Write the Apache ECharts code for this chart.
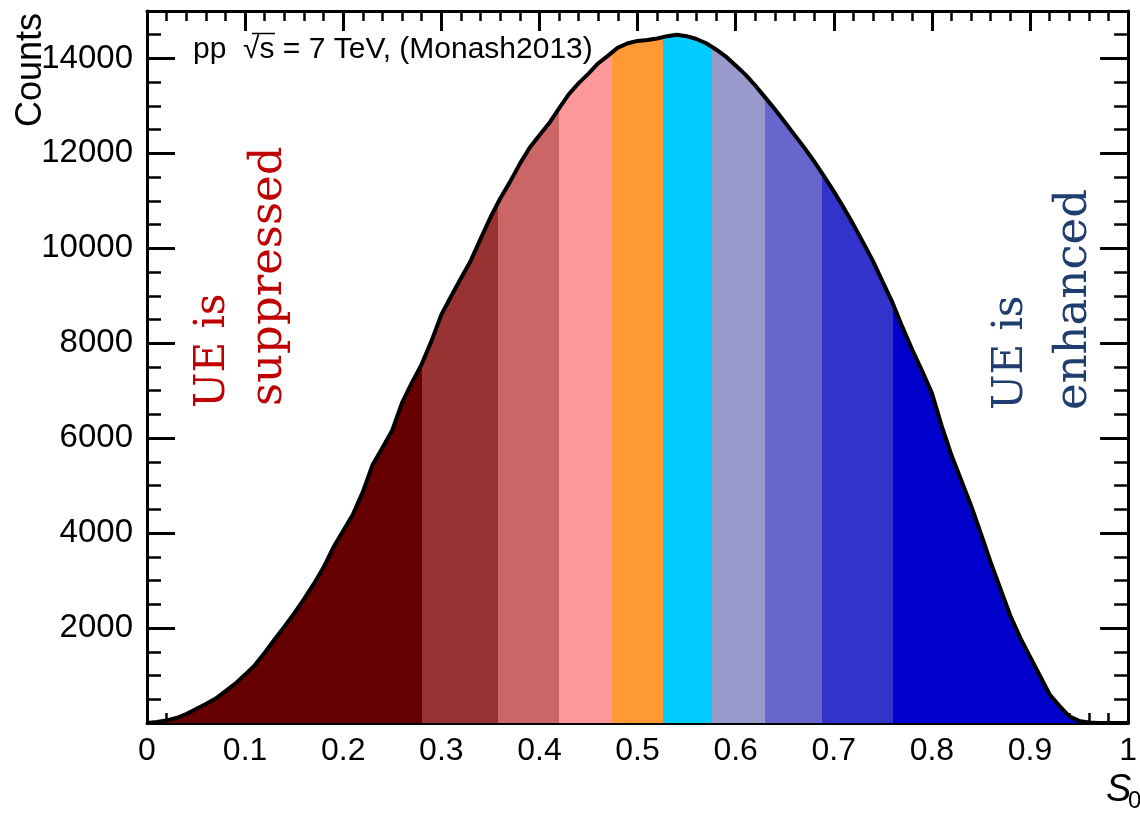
<!DOCTYPE html>
<html>
<head>
<meta charset="utf-8">
<script src="https://cdn.jsdelivr.net/npm/echarts@6/dist/echarts.min.js"></script>
<style>
  html, body { margin: 0; padding: 0; background: #fff; }
  #chart { width: 1140px; height: 815px; }
</style>
</head>
<body>
<div id="chart"></div>
<script>
// S0 distribution, bin step 0.01 from 0 to 1
const binStep = 0.01;
const counts = [
  0, 20, 55, 105, 190, 295, 400, 515, 670, 830,
  1020, 1220, 1480, 1760, 2030, 2310, 2610, 2930, 3280, 3700,
  4050, 4400, 4870, 5440, 5800, 6170, 6750, 7170, 7560, 8050,
  8600, 8990, 9370, 9740, 10200, 10650, 11050, 11400, 11780, 12120,
  12380, 12640, 12950, 13250, 13480, 13680, 13900, 14060, 14230, 14320,
  14370, 14390, 14420, 14470, 14500, 14470, 14410, 14320, 14190, 14040,
  13850, 13660, 13430, 13180, 12930, 12660, 12390, 12120, 11830, 11520,
  11200, 10860, 10500, 10120, 9730, 9290, 8850, 8340, 7860, 7420,
  6950, 6260, 5640, 5110, 4580, 3990, 3380, 2820, 2260, 1800,
  1400, 1000, 600, 360, 140, 45, 10, 0, 0, 0,
  0
];

// edges of the coloured S0 classes
const classEdges = [0.280, 0.358, 0.4195, 0.474, 0.5255, 0.576, 0.630, 0.6885, 0.760];
const classColors = ['#660000', '#993333', '#cc6666', '#ff9999', '#ff9933',
                     '#00ccff', '#9999cc', '#6666cc', '#3333cc', '#0000cc'];

const yTicks = [2000, 4000, 6000, 8000, 10000, 12000, 14000];

const histData = counts.map((c, i) => [+(i * binStep).toFixed(2), c]);

// visualMap pieces for the bands
const pieces = classColors.map((col, i) => {
  const p = { color: col };
  if (i > 0) p.gte = classEdges[i - 1];
  if (i < classEdges.length) p.lt = classEdges[i];
  return p;
});

const chart = echarts.init(document.getElementById('chart'));
const font = 'Liberation Sans, Arial, Helvetica, sans-serif';
const serif = 'DejaVu Serif, serif';

const xCommon = {
  type: 'value', min: 0, max: 1, interval: 0.1,
  axisLine: { show: true, onZero: false, lineStyle: { color: '#000', width: 3 } },
  axisTick: { show: true, inside: true, length: 20, lineStyle: { color: '#000', width: 3 } },
  minorTick: { show: true, splitNumber: 5, length: 10, lineStyle: { color: '#000', width: 2.5 } },
  splitLine: { show: false }
};
const yCommon = {
  type: 'value', min: 0, max: 15000, interval: 2000,
  axisLine: { show: true, onZero: false, lineStyle: { color: '#000', width: 3 } },
  axisTick: { show: true, inside: true, length: 28, lineStyle: { color: '#000', width: 3 } },
  minorTick: { show: true, splitNumber: 4, length: 14, lineStyle: { color: '#000', width: 2.5 } },
  splitLine: { show: false }
};

chart.setOption({
  animation: false,
  grid: { left: 147, right: 4, top: 11, bottom: 92 },
  xAxis: [
    Object.assign({}, xCommon, {
      position: 'bottom',
      axisLabel: { color: '#000', fontSize: 32, fontFamily: font, margin: 12 }
    }),
    Object.assign({}, xCommon, { position: 'top', axisLabel: { show: false } })
  ],
  yAxis: [
    Object.assign({}, yCommon, {
      position: 'left',
      axisLabel: {
        color: '#000', fontSize: 33, fontFamily: font, margin: 14,
        formatter: v => (yTicks.includes(v) ? String(v) : '')
      }
    }),
    Object.assign({}, yCommon, { position: 'right', axisLabel: { show: false } })
  ],
  visualMap: {
    type: 'piecewise', show: false, dimension: 0, seriesIndex: 0,
    pieces: pieces
  },
  series: [
    {
      type: 'line', data: histData, showSymbol: false, smooth: false,
      lineStyle: { width: 0 },
      areaStyle: { opacity: 1 },
      z: 3
    },
    {
      type: 'line', data: histData, showSymbol: false, smooth: false,
      lineStyle: { color: '#000', width: 4 },
      z: 4
    }
  ],
  graphic: [
    {
      type: 'text', x: 193, y: 50, z: 10,
      style: { text: 'pp  \u221as = 7 TeV, (Monash2013)', font: '30px ' + font,
               fill: '#000', verticalAlign: 'middle' }
    },
    {
      type: 'line', z: 10,
      shape: { x1: 252, y1: 33.5, x2: 275, y2: 33.5 },
      style: { stroke: '#000', lineWidth: 1.5 }
    },
    {
      type: 'text', x: 31, y: 13, rotation: Math.PI / 2, z: 10,
      style: { text: 'Counts', font: '36px ' + font, fill: '#000',
               align: 'right', verticalAlign: 'middle' }
    },
    {
      type: 'text', x: 1106, y: 790, z: 10,
      style: { text: 'S', font: 'italic 38px ' + font, fill: '#000', verticalAlign: 'middle' }
    },
    {
      type: 'text', x: 1128, y: 801, z: 10,
      style: { text: '0', font: '24px ' + font, fill: '#000', verticalAlign: 'middle' }
    },
    {
      type: 'text', x: 213, y: 408, rotation: Math.PI / 2, z: 10,
      style: { text: 'UE is', font: '42px ' + serif, fill: '#c00000', verticalAlign: 'middle' }
    },
    {
      type: 'text', x: 269, y: 406, rotation: Math.PI / 2, z: 10,
      style: { text: 'suppressed', font: '45px ' + serif, fill: '#c00000', verticalAlign: 'middle' }
    },
    {
      type: 'text', x: 1011, y: 410, rotation: Math.PI / 2, z: 10,
      style: { text: 'UE is', font: '42px ' + serif, fill: '#1f3d6e', verticalAlign: 'middle' }
    },
    {
      type: 'text', x: 1074, y: 410, rotation: Math.PI / 2, z: 10,
      style: { text: 'enhanced', font: '45px ' + serif, fill: '#1f3d6e', verticalAlign: 'middle' }
    }
  ]
});
</script>
</body>
</html>
